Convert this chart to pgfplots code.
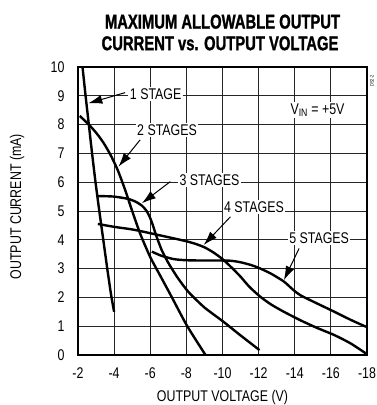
\documentclass[border=0pt]{standalone}
\usepackage{fontspec}
\setmainfont{Liberation Sans}[FakeStretch=0.8]
\newfontfamily\titlefont{Liberation Sans}[FakeStretch=0.74, FakeBold=1.2]
\usepackage{pgfplots}
\pgfplotsset{compat=1.18}
\usetikzlibrary{arrows.meta}
\begin{document}
\begin{tikzpicture}[font=\fontsize{15.5}{17}\selectfont]
\begin{axis}[
  width=289pt, height=288pt, scale only axis,
  xmin=-18, xmax=-2, x dir=reverse, ymin=0, ymax=10,
  xtick={-18,-16,-14,-12,-10,-8,-6,-4,-2},
  xticklabels={-18,-16,-14,-12,-10,-8,-6,-4,-2},
  ytick={0,1,2,3,4,5,6,7,8,9,10},
  yticklabels={0,1,2,3,4,5,6,7,8,9,10},
  major tick length=0pt,
  grid=major, major grid style={black!85, line width=0.8pt},
  axis line style={line width=2.4pt},
  tick label style={font=\fontsize{15.5}{17}\selectfont},
  xticklabel shift=9pt, yticklabel shift=10pt,
  xlabel={OUTPUT VOLTAGE (V)}, ylabel={OUTPUT CURRENT (mA)},
  xlabel style={at={(axis description cs:0.5,-0.148)}, anchor=center},
  ylabel style={at={(axis description cs:-0.211,0.515)}, anchor=center},
  clip=false,
]
% 1 stage
\addplot[black, line width=2.4pt, smooth, tension=0.4] coordinates {
(-2.25,10) (-2.42,9) (-2.6,8) (-2.78,7) (-2.97,6) (-3.18,5) (-3.4,4) (-3.62,3) (-3.83,2.1) (-4.0,1.5)};
% 2 stages
\addplot[black, line width=2.4pt, smooth, tension=0.4] coordinates {
(-2.1,8.3) (-2.6,8.0) (-3.0,7.72) (-3.4,7.38) (-3.8,6.95) (-4.2,6.42) (-4.6,5.75) (-5.0,5.0) (-5.45,4.2) (-6.0,3.4) (-6.6,2.7) (-7.2,2.0) (-8.05,1.0) (-9.06,0)};
% 3 stages
\addplot[black, line width=2.4pt, smooth, tension=0.4] coordinates {
(-3.1,5.52) (-4.0,5.5) (-4.78,5.42) (-5.2,5.32) (-5.55,5.18) (-5.8,5.0) (-5.98,4.78) (-6.15,4.5) (-6.3,4.2) (-6.63,3.65) (-7.0,3.2) (-7.5,2.7) (-8.1,2.2) (-9.0,1.65) (-10.0,1.18) (-11.0,0.68) (-12.05,0.17)};
% 4 stages
\addplot[black, line width=2.4pt, smooth, tension=0.4] coordinates {
(-3.1,4.55) (-4,4.45) (-5,4.36) (-5.7,4.27) (-6.5,4.16) (-7.3,4.05) (-8.0,3.95) (-8.5,3.86) (-9.0,3.74) (-9.5,3.56) (-10.0,3.33) (-10.5,3.04) (-11.0,2.72) (-11.5,2.36) (-12.1,2.02) (-12.7,1.75) (-13.4,1.5) (-14.3,1.21) (-15.2,0.95) (-16.2,0.69) (-17.1,0.4) (-17.95,0.05)};
% 5 stages
\addplot[black, line width=2.4pt, smooth, tension=0.4] coordinates {
(-6.09,3.59) (-6.6,3.45) (-7.3,3.33) (-8.0,3.29) (-9.0,3.28) (-10.0,3.28) (-10.5,3.27) (-11.0,3.22) (-11.6,3.12) (-12.1,3.0) (-12.7,2.82) (-13.4,2.55) (-13.9,2.27) (-14.3,2.08) (-15.2,1.8) (-16.2,1.5) (-17.1,1.22) (-17.95,0.98)};
% labels
\node[fill=white, inner sep=1.5pt] at (axis cs:-6.3,9.06) {1 STAGE};
\node[fill=white, inner sep=1.5pt] at (axis cs:-6.93,7.8) {2 STAGES};
\node[fill=white, inner sep=1.5pt] at (axis cs:-9.28,6.08) {3 STAGES};
\node[fill=white, inner sep=1.5pt] at (axis cs:-11.74,5.15) {4 STAGES};
\node[fill=white, inner sep=1.5pt] at (axis cs:-15.35,4.05) {5 STAGES};
\node[fill=white, inner sep=1.5pt] at (axis cs:-15.26,8.5) {V\textsubscript{IN} = +5V};
\draw[line width=1pt, -{Latex[length=14pt,width=9pt]}] (axis cs:-4.61,9.11) -- (axis cs:-2.57,8.74);
\draw[line width=1pt, -{Latex[length=14pt,width=9pt]}] (axis cs:-5.44,7.47) -- (axis cs:-4.24,6.54);
\draw[line width=1pt, -{Latex[length=14pt,width=9pt]}] (axis cs:-7.11,6.02) -- (axis cs:-5.54,5.27);
\draw[line width=1pt, -{Latex[length=14pt,width=9pt]}] (axis cs:-10.44,4.8) -- (axis cs:-8.96,3.82);
\draw[line width=1pt, -{Latex[length=14pt,width=9pt]}] (axis cs:-14.24,3.7) -- (axis cs:-13.4,2.6);
\end{axis}
\node[rotate=90, font=\fontsize{5}{6}\selectfont] at (294pt,274pt) {DS2-2};
\node[font=\titlefont\bfseries\fontsize{20}{22}\selectfont] at (144.5pt,333.3pt) {MAXIMUM ALLOWABLE OUTPUT};
\node[font=\titlefont\bfseries\fontsize{20}{22}\selectfont] at (142pt,311.7pt) {CURRENT vs. OUTPUT VOLTAGE};
\pgfresetboundingbox
\useasboundingbox (-78pt,-50pt) rectangle (299pt,355pt);
\end{tikzpicture}
\end{document}
